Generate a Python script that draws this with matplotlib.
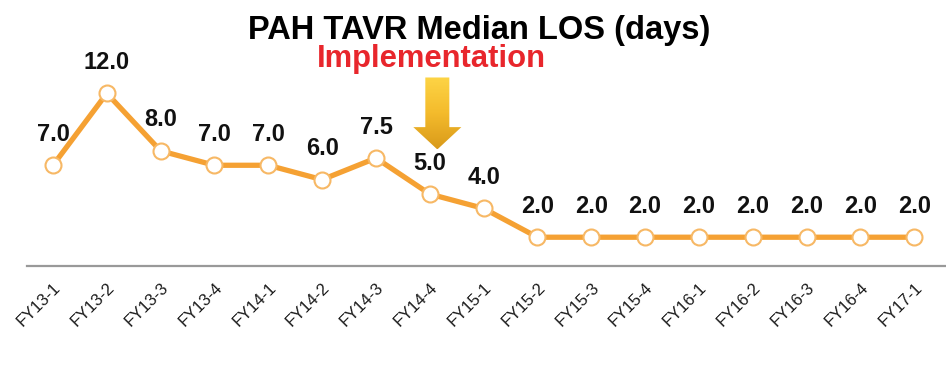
import matplotlib.pyplot as plt
import numpy as np
from matplotlib.path import Path
from matplotlib.patches import PathPatch
from matplotlib.colors import LinearSegmentedColormap

plt.rcParams['font.family'] = ['Liberation Sans', 'DejaVu Sans']

quarters = ["FY13-1", "FY13-2", "FY13-3", "FY13-4", "FY14-1", "FY14-2", "FY14-3", "FY14-4",
            "FY15-1", "FY15-2", "FY15-3", "FY15-4", "FY16-1", "FY16-2", "FY16-3", "FY16-4", "FY17-1"]
los = [7.0, 12.0, 8.0, 7.0, 7.0, 6.0, 7.5, 5.0, 4.0, 2.0, 2.0, 2.0, 2.0, 2.0, 2.0, 2.0, 2.0]

fig = plt.figure(figsize=(9.46, 3.86), dpi=100)
ax = fig.add_axes([27 / 946, 1 - 266 / 386, 1 - 27 / 946, 236 / 386])

x = np.arange(len(quarters))
ax.plot(x, los, color='#f5a133', lw=3.8, marker='o', ms=11.5,
        mfc='white', mec='#f7b865', mew=1.5, zorder=3, solid_joinstyle='round')

for xi, v in zip(x, los):
    ax.annotate(f"{v:.1f}", (xi, v), xytext=(0, 14), textcoords='offset points',
                ha='center', va='bottom', fontsize=17, fontweight='bold', color='#111111')

ax.set_xlim(-0.483, len(quarters) - 1 + 0.59)
ax.set_ylim(0, 16.4)
ax.set_xticks(x)
ax.set_xticklabels(quarters, rotation=45, ha='right', rotation_mode='anchor', fontsize=12,
                   color='#1a1a1a')
ax.tick_params(axis='x', length=0, pad=10)
ax.set_yticks([])
for s in ['top', 'right', 'left']:
    ax.spines[s].set_visible(False)
ax.spines['bottom'].set_color('#999999')
ax.spines['bottom'].set_linewidth(1.6)

# implementation arrow with gold gradient
ax_x = 7.14
sw, hw = 0.223, 0.446
top, neck, tip = 13.1, 9.65, 8.1
verts = [(ax_x - sw, top), (ax_x + sw, top), (ax_x + sw, neck), (ax_x + hw, neck),
         (ax_x, tip), (ax_x - hw, neck), (ax_x - sw, neck), (ax_x - sw, top)]
codes = [Path.MOVETO] + [Path.LINETO] * 6 + [Path.CLOSEPOLY]
arrow = PathPatch(Path(verts, codes), facecolor='none', edgecolor='none')
ax.add_patch(arrow)
grad = np.linspace(0, 1, 100).reshape(-1, 1)
cmap = LinearSegmentedColormap.from_list('gold', ['#d99a1a', '#f4bb2c', '#fdd445'])
img = ax.imshow(grad, cmap=cmap, extent=[ax_x - hw, ax_x + hw, tip, top],
                origin='lower', aspect='auto', zorder=2)
img.set_clip_path(arrow)

fig.text(479.5 / 946, 1 - 30 / 386, "PAH TAVR Median LOS (days)", ha='center', va='center',
         fontsize=23.5, fontweight='bold', color='black')
fig.text(431.5 / 946, 1 - 59 / 386, "Implementation", ha='center', va='center',
         fontsize=22.3, fontweight='bold', color='#e8262c')

fig.savefig("out.png", dpi=100)
